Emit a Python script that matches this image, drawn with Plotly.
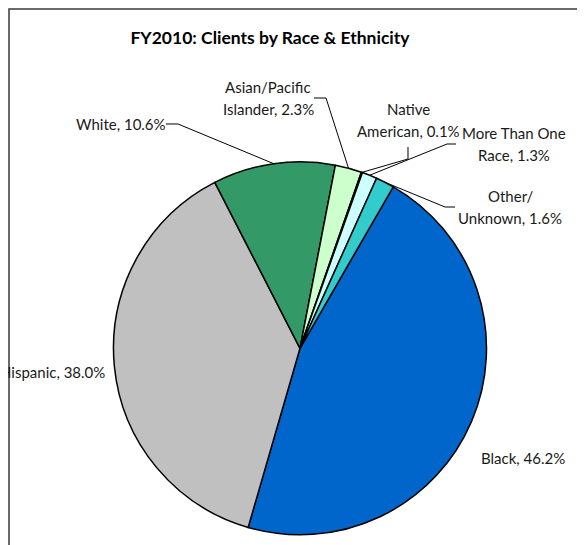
import numpy as np
import plotly.graph_objects as go

# data
groups = ["Black", "Hispanic", "White", "Asian/Pacific Islander",
          "Native American", "More Than One Race", "Other/Unknown"]
shares = [46.2, 38.0, 10.6, 2.3, 0.1, 1.3, 1.6]
label_lines = [["Black"], ["Hispanic"], ["White"], ["Asian/Pacific", "Islander"],
               ["Native", "American"], ["More Than One", "Race"], ["Other/", "Unknown"]]
colors = ["#0066CC", "#C0C0C0", "#339966", "#CCFFCC", "#000000", "#CCFFFF", "#33CCCC"]

# page is 585x545 but the html body keeps an 8px margin, so the figure is a bit smaller
PAGE_W, PAGE_H = 585, 545
OFF = 8
W, H = PAGE_W - OFF, PAGE_H - OFF
cx, cy, r = 300, 348.3, 186.5   # pie centre / radius in page px
start_angle = 30                # first slice starts 30 deg clockwise from 12 o'clock
font_family = "Lato, 'Open Sans', sans-serif"
text_color = "#1a1a1a"
line_gap = 22

# label placement (page px): text anchor, then leader line start and elbow (None = no leader)
label_pos = [
    dict(x=523, y=458, anchor="center", lead=None),
    dict(x=107, y=372, anchor="right", lead=None),
    dict(x=121, y=124, anchor="center", lead=[(166, 124), (178, 124)]),
    dict(x=268, y=87, anchor="center", lead=[(314, 98), (326, 98)]),
    dict(x=408, y=109, anchor="center", lead=[(408, 147), (408, 159)]),
    dict(x=514, y=133, anchor="center", lead=[(456, 144), (447, 144)]),
    dict(x=510, y=196, anchor="center", lead=[(455, 207), (445, 207)]),
]


def px(x, y):
    return (x - OFF) / W, 1 - (y - OFF) / H


dx0, dy1 = px(cx - r, cy - r)
dx1, dy0 = px(cx + r, cy + r)

fig = go.Figure(go.Pie(
    labels=groups,
    values=shares,
    sort=False,
    direction="clockwise",
    rotation=start_angle,
    marker=dict(colors=colors, line=dict(color="black", width=1.5)),
    textinfo="none",
    hoverinfo="label+value",
    showlegend=False,
    domain=dict(x=[dx0, dx1], y=[dy0, dy1]),
))

# mid angle of every slice, for the leader lines
vals = np.array(shares)
cum = np.cumsum(vals) - vals / 2
mid = np.radians(start_angle + cum / vals.sum() * 360)

annotations = []
shapes = []
for i, name in enumerate(groups):
    pos = label_pos[i]
    lines = list(label_lines[i])
    lines[-1] = f"{lines[-1]}, {shares[i]:.1f}%"
    for k, t in enumerate(lines):
        ax, ay = px(pos["x"], pos["y"] + k * line_gap)
        annotations.append(dict(x=ax, y=ay, xref="paper", yref="paper", text=t,
                                showarrow=False, xanchor=pos["anchor"], yanchor="middle",
                                font=dict(family=font_family, size=15, color=text_color)))
    if pos["lead"]:
        ex = cx + r * np.sin(mid[i])
        ey = cy - r * np.cos(mid[i])
        pts = [px(*p) for p in pos["lead"]] + [px(ex, ey)]
        path = "M " + " L ".join(f"{a:.5f},{b:.5f}" for a, b in pts)
        shapes.append(dict(type="path", path=path, xref="paper", yref="paper",
                           line=dict(color="black", width=1)))

# chart frame, running off the right and bottom edges
fx0, fy1 = px(OFF + 1, 9)
shapes.append(dict(type="rect", xref="paper", yref="paper",
                   x0=fx0, y0=-0.2, x1=1.2, y1=fy1,
                   line=dict(color="#3a3a3a", width=1.5), layer="below"))

tx, ty = px(270, 38)
fig.update_layout(
    width=W, height=H,
    margin=dict(l=0, r=0, t=0, b=0),
    paper_bgcolor="white",
    title=dict(text="<b>FY2010: Clients by Race & Ethnicity</b>",
               x=tx, xanchor="center", y=ty, yanchor="middle",
               font=dict(family=font_family, size=17.5, color="black")),
    annotations=annotations,
    shapes=shapes,
)

fig.write_html("out.html")
